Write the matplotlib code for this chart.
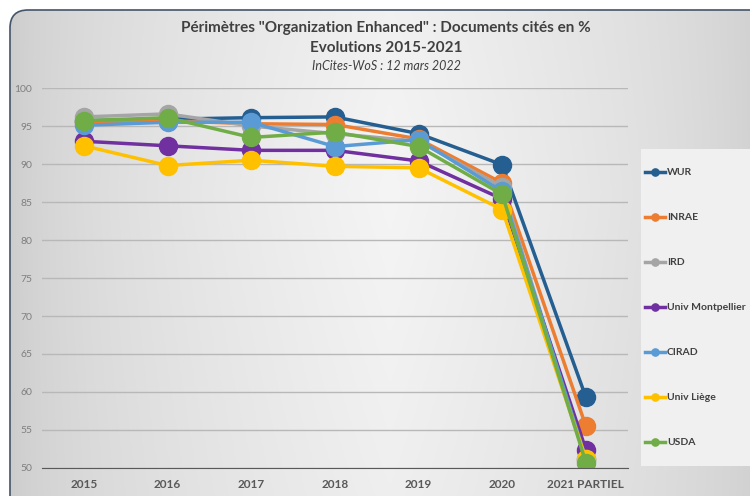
import matplotlib.pyplot as plt
import numpy as np
from matplotlib.patches import FancyBboxPatch, Rectangle

plt.rcParams['font.family'] = ['Lato', 'DejaVu Sans']

years = ['2015', '2016', '2017', '2018', '2019', '2020', '2021 PARTIEL']

wur = [95.7, 95.9, 96.1, 96.2, 94.0, 89.9, 59.3]
inrae = [95.5, 95.7, 95.3, 95.2, 93.3, 87.5, 55.5]
ird = [96.2, 96.6, 95.0, 94.0, 93.0, 87.0, 51.0]
montpellier = [93.0, 92.4, 91.8, 91.8, 90.4, 85.4, 52.4]
cirad = [95.1, 95.5, 95.5, 92.3, 93.2, 86.4, 51.2]
liege = [92.4, 89.8, 90.5, 89.7, 89.5, 84.0, 51.2]
usda = [95.7, 96.1, 93.5, 94.2, 92.3, 86.0, 50.7]

series = [
    ('WUR', wur, '#255e91'),
    ('INRAE', inrae, '#ed7d31'),
    ('IRD', ird, '#a5a5a5'),
    ('Univ Montpellier', montpellier, '#7030a0'),
    ('CIRAD', cirad, '#5b9bd5'),
    ('Univ Liège', liege, '#ffc000'),
    ('USDA', usda, '#70ad47'),
]

fig = plt.figure(figsize=(7.5, 4.96), dpi=100)
fig.patch.set_facecolor('white')

# rounded chart frame with light grey gradient
bg = fig.add_axes([0, 0, 1, 1], zorder=-10)
bg.set_xlim(0, 750)
bg.set_ylim(496, 0)
bg.axis('off')
gx = np.linspace(0, 1, 300)
gy = np.linspace(0, 1, 200)
GX, GY = np.meshgrid(gx, gy)
grad = 0.80 + 0.16 * (1 - np.abs(GX - 0.5) * 2) ** 0.6 * (1 - 0.25 * np.abs(GY - 0.35))
frame = FancyBboxPatch((10, 10), 760, 520, boxstyle='round,pad=0,rounding_size=18',
                       facecolor='none', edgecolor='#44546a', linewidth=1.2)
bg.add_patch(frame)
im = bg.imshow(np.dstack([grad, grad, grad]), extent=(10, 770, 530, 10), aspect='auto')
im.set_clip_path(frame)
# legend panel
bg.add_patch(Rectangle((641, 149), 120, 317, facecolor='#f0f0f0', edgecolor='none'))

ax = fig.add_axes([0.056, 0.0565, 0.781, 0.766])
ax.patch.set_alpha(0)
x = np.arange(len(years))
for name, vals, col in series:
    ax.plot(x, vals, color=col, linewidth=2.5, marker='o', markersize=13, label=name)

ax.set_xlim(-0.5, len(years) - 0.5)
ax.set_ylim(50, 100)
ax.set_yticks(range(50, 101, 5))
ax.set_xticks(x)
ax.set_xticklabels(years, fontweight='bold', fontsize=8.5, color='#595959')
ax.tick_params(axis='y', labelsize=7.5, colors='#7f7f7f', length=0, pad=7)
ax.tick_params(axis='x', length=0, pad=8)
ax.yaxis.grid(True, color='#b8b8b8', linewidth=1)
ax.set_axisbelow(True)
for s in ['top', 'right', 'left']:
    ax.spines[s].set_visible(False)
ax.spines['bottom'].set_color('#595959')

fig.text(0.515, 0.943, 'Périmètres "Organization Enhanced" : Documents cités en %',
         ha='center', va='center', fontsize=11, fontweight='bold', color='#404040')
fig.text(0.515, 0.903, 'Evolutions 2015-2021', ha='center', va='center',
         fontsize=11, fontweight='bold', color='#404040')
fig.text(0.515, 0.867, 'InCites-WoS : 12 mars 2022', ha='center', va='center',
         fontsize=9, style='italic', color='#404040')

leg = fig.legend(loc='upper left', bbox_to_anchor=(645 / 750, 1 - 168 / 496), frameon=False,
                 labelspacing=3.43, handlelength=1.9, handletextpad=0.2,
                 borderpad=0, borderaxespad=0, markerscale=0.4,
                 prop={'size': 7.5, 'weight': 'bold'})
for t in leg.get_texts():
    t.set_color('#404040')

plt.savefig('out.png', dpi=100)
